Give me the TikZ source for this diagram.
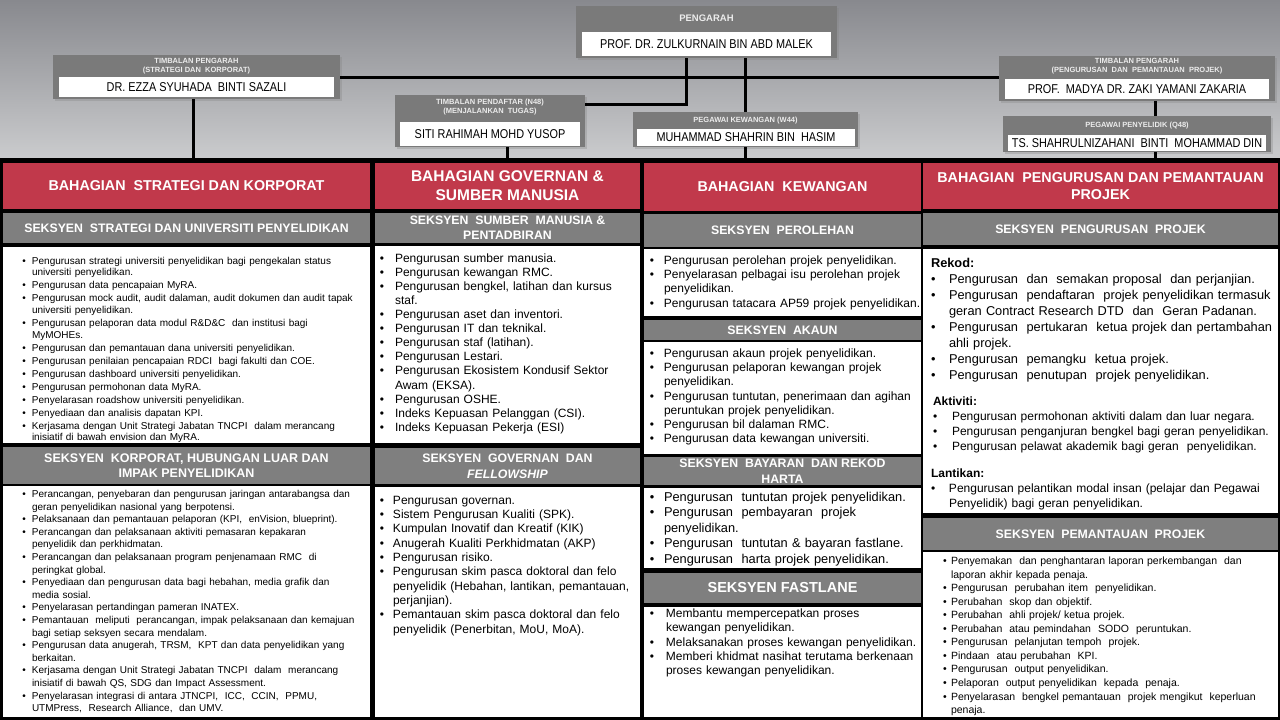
\documentclass[tikz,border=0pt]{standalone}
\usepackage{fontspec}
\setmainfont{Liberation Sans}
\newfontfamily\narrowfont[FakeStretch=0.85]{Liberation Sans}
\usetikzlibrary{shadows}
\definecolor{myred}{RGB}{193,57,75}
\definecolor{secgray}{RGB}{127,127,127}
\definecolor{topgray}{RGB}{122,122,122}
\definecolor{hdtxt}{RGB}{236,236,236}
\definecolor{bgtop}{RGB}{136,137,142}
\definecolor{bgbot}{RGB}{203,204,206}
\newlength\bulind
\newlength\itemgap
\setlength\itemgap{0pt}
\newcommand{\nl}{\newline}
\newcommand{\itm}[1]{\par\vskip\itemgap\noindent\hangindent=\bulind\hangafter=1\makebox[\bulind][l]{\textbullet}\strut#1\par}
\newcommand{\lbl}[1]{\par\noindent\strut{\bfseries #1}\par}
\newcommand{\mkbox}[7]{\node[#6, minimum width={#4-#2}, minimum height={#5-#3}] (#1) at ({(#2+#4)/2},{(#3+#5)/2}) {#7};}
\begin{document}
\begin{tikzpicture}[x=1pt,y=-1pt,
  box/.style={inner sep=0pt, outer sep=0pt, draw=none, text=white, align=center},
  redhd/.style={box, fill=myred, font=\bfseries\fontsize{14.3}{17}\selectfont},
  grayhd/.style={box, fill=secgray, font=\bfseries\fontsize{12.3}{16}\selectfont},
  whitebox/.style={box, fill=white},
  body/.style={anchor=north west, inner sep=0pt, outer sep=0pt, text width=420pt, text=black},
  topbox/.style={inner sep=0pt, outer sep=0pt, fill=topgray, drop shadow={shadow xshift=2pt, shadow yshift=-2pt, opacity=0.3}},
  namebox/.style={inner sep=0pt, outer sep=0pt, fill=white, text=black, font=\narrowfont\fontsize{12.8}{14}\selectfont},
  toplab/.style={inner sep=0pt, text=hdtxt, align=center, font=\bfseries\fontsize{7.5}{9}\selectfont},
  conn/.style={line width=3pt, black}]
\useasboundingbox (0,0) rectangle (1280,720);
\shade[top color=bgtop, bottom color=bgbot] (0,0) rectangle (1280,160);
\fill[black] (0,158) rectangle (1280,720);

% ---------- top boxes ----------
\mkbox{pengarah}{576}{6}{837}{58}{topbox}{}
\mkbox{pengarahN}{582}{32}{831}{56}{namebox}{PROF. DR. ZULKURNAIN BIN ABD MALEK}
\node[toplab, font=\bfseries\fontsize{9.5}{11}\selectfont] (pengarahL) at (706.5,18) {PENGARAH};

\mkbox{ezza}{53}{55}{340}{99}{topbox}{}
\mkbox{ezzaN}{59}{77}{334}{97}{namebox}{DR. EZZA SYUHADA\ \ BINTI\ SAZALI}
\node[toplab] (ezzaL) at (196.5,66.5) {TIMBALAN PENGARAH\\(STRATEGI DAN\ \ KORPORAT)};

\mkbox{siti}{395}{95}{585}{147}{topbox}{}
\mkbox{sitiN}{400}{122}{580}{146}{namebox}{SITI RAHIMAH MOHD YUSOP}
\node[toplab] (sitiL) at (490,107.5) {TIMBALAN PENDAFTAR (N48)\\(MENJALANKAN\ \ TUGAS)};

\mkbox{kew}{633}{112}{858}{147}{topbox}{}
\mkbox{kewN}{637}{129}{855}{146}{namebox}{MUHAMMAD SHAHRIN BIN\ \ HASIM}
\node[toplab] (kewL) at (745.5,120.5) {PEGAWAI KEWANGAN (W44)};

\mkbox{zaki}{999}{56}{1275}{101}{topbox}{}
\mkbox{zakiN}{1005}{79}{1269}{99}{namebox}{PROF.\ \ MADYA DR. ZAKI YAMANI ZAKARIA}
\node[toplab] (zakiL) at (1137,66.5) {TIMBALAN PENGARAH\\(PENGURUSAN\ \ DAN\ \ PEMANTAUAN\ \ PROJEK)};

\mkbox{penyel}{1003}{116}{1271}{152}{topbox}{}
\mkbox{penyelN}{1008}{135}{1266}{151}{namebox}{TS. SHAHRULNIZAHANI\ \ BINTI\ \ MOHAMMAD DIN}
\node[toplab] (penyelL) at (1137,126) {PEGAWAI PENYELIDIK (Q48)};

% ---------- column 1 ----------
\mkbox{c1head}{3}{163}{370}{209}{redhd}{BAHAGIAN\ \ STRATEGI DAN KORPORAT}
\mkbox{c1s1}{3}{213}{370}{243}{grayhd}{SEKSYEN\ \ STRATEGI DAN UNIVERSITI PENYELIDIKAN}
\mkbox{c1b1}{3}{247}{370}{443}{whitebox}{}
\mkbox{c1s2}{3}{447}{370}{484}{grayhd, font=\bfseries\fontsize{12.5}{15.5}\selectfont}{\raisebox{-2pt}{\parbox{360pt}{\centering SEKSYEN\ \ KORPORAT, HUBUNGAN LUAR DAN\\IMPAK PENYELIDIKAN}}}
\mkbox{c1b2}{3}{486}{370}{717}{whitebox}{}

\node[body, font=\fontsize{10}{11.6}\selectfont] (c1t1) at (22.3,251) {\setlength\bulind{9.7pt}\setlength\itemgap{1.45pt}%
\itm{Pengurusan strategi universiti penyelidikan bagi pengekalan status\nl universiti penyelidikan.}
\itm{Pengurusan data pencapaian MyRA.}
\itm{Pengurusan mock audit, audit dalaman, audit dokumen dan audit tapak\nl universiti penyelidikan.}
\itm{Pengurusan pelaporan data modul R\&D\&C\ \ dan institusi bagi\nl MyMOHEs.}
\itm{Pengurusan dan pemantauan dana universiti penyelidikan.}
\itm{Pengurusan penilaian pencapaian RDCI\ \ bagi fakulti dan COE.}
\itm{Pengurusan dashboard universiti penyelidikan.}
\itm{Pengurusan permohonan data MyRA.}
\itm{Penyelarasan roadshow universiti penyelidikan.}
\itm{Penyediaan dan analisis dapatan KPI.}
\itm{Kerjasama dengan Unit Strategi Jabatan TNCPI\ \ dalam merancang\nl inisiatif di bawah envision dan MyRA.}};

\node[body, font=\fontsize{10}{12.6}\selectfont] (c1t2) at (22.3,484.8) {\setlength\bulind{9.7pt}%
\itm{Perancangan, penyebaran dan pengurusan jaringan antarabangsa dan\nl geran penyelidikan nasional yang berpotensi.}
\itm{Pelaksanaan dan pemantauan pelaporan (KPI,\ \ enVision, blueprint).}
\itm{Perancangan dan pelaksanaan aktiviti pemasaran kepakaran\nl penyelidik dan perkhidmatan.}
\itm{Perancangan dan pelaksanaan program penjenamaan RMC\ \ di\nl peringkat global.}
\itm{Penyediaan dan pengurusan data bagi hebahan, media grafik dan\nl media sosial.}
\itm{Penyelarasan pertandingan pameran INATEX.}
\itm{Pemantauan\ \ meliputi\ \ perancangan, impak pelaksanaan dan kemajuan\nl bagi setiap seksyen secara mendalam.}
\itm{Pengurusan data anugerah, TRSM,\ \ KPT dan data penyelidikan yang\nl berkaitan.}
\itm{Kerjasama dengan Unit Strategi Jabatan TNCPI\ \ dalam\ \ merancang\nl inisiatif di bawah QS, SDG dan Impact Assessment.}
\itm{Penyelarasan integrasi di antara JTNCPI,\ \ ICC,\ \ CCIN,\ \ PPMU,\nl UTMPress,\ \ Research Alliance,\ \ dan UMV.}};

% ---------- column 2 ----------
\mkbox{c2head}{375}{163}{640}{209}{redhd, font=\bfseries\fontsize{15.5}{19}\selectfont}{\raisebox{-1.5pt}{\parbox{260pt}{\centering BAHAGIAN GOVERNAN \&\\SUMBER MANUSIA}}}
\mkbox{c2s1}{375}{213}{640}{243}{grayhd, font=\bfseries\fontsize{12.3}{15}\selectfont}{\raisebox{-1.5pt}{\parbox{260pt}{\centering SEKSYEN\ \ SUMBER\ \ MANUSIA \&\\PENTADBIRAN}}}
\mkbox{c2b1}{375}{246}{640}{443}{whitebox}{}
\mkbox{c2s2}{375}{448}{640}{484}{grayhd}{SEKSYEN\ \ GOVERNAN\ \ DAN\\\textit{FELLOWSHIP}}
\mkbox{c2b2}{375}{487}{640}{717}{whitebox}{}

\node[body, font=\fontsize{12}{14.1}\selectfont] (c2t1) at (379.9,248) {\setlength\bulind{15.1pt}%
\itm{Pengurusan sumber manusia.}
\itm{Pengurusan kewangan RMC.}
\itm{Pengurusan bengkel, latihan dan kursus\nl staf.}
\itm{Pengurusan aset dan inventori.}
\itm{Pengurusan IT dan teknikal.}
\itm{Pengurusan staf (latihan).}
\itm{Pengurusan Lestari.}
\itm{Pengurusan Ekosistem Kondusif Sektor\nl Awam (EKSA).}
\itm{Pengurusan OSHE.}
\itm{Indeks Kepuasan Pelanggan (CSI).}
\itm{Indeks Kepuasan Pekerja (ESI)}};

\node[body, font=\fontsize{12}{14.3}\selectfont] (c2t2) at (379.9,490) {\setlength\bulind{13.1pt}%
\itm{Pengurusan governan.}
\itm{Sistem Pengurusan Kualiti (SPK).}
\itm{Kumpulan Inovatif dan Kreatif (KIK)}
\itm{Anugerah Kualiti Perkhidmatan (AKP)}
\itm{Pengurusan risiko.}
\itm{Pengurusan skim pasca doktoral dan felo\nl penyelidik (Hebahan, lantikan, pemantauan,\nl perjanjian).}
\itm{Pemantauan skim pasca doktoral dan felo\nl penyelidik (Penerbitan, MoU, MoA).}};

% ---------- column 3 ----------
\mkbox{c3head}{644}{163}{921}{211}{redhd}{BAHAGIAN\ \ KEWANGAN}
\mkbox{c3s1}{644}{214}{921}{247}{grayhd}{SEKSYEN\ \ PEROLEHAN}
\mkbox{c3b1}{644}{249}{921}{316}{whitebox}{}
\mkbox{c3s2}{644}{320}{921}{340}{grayhd}{SEKSYEN\ \ AKAUN}
\mkbox{c3b2}{644}{342}{921}{454}{whitebox}{}
\mkbox{c3s3}{644}{457}{921}{485}{grayhd}{SEKSYEN\ \ BAYARAN\ \ DAN REKOD\\HARTA}
\mkbox{c3b3}{644}{488}{921}{568}{whitebox}{}
\mkbox{c3s4}{644}{573}{921}{603}{grayhd, font=\bfseries\fontsize{14.5}{17}\selectfont}{SEKSYEN FASTLANE}
\mkbox{c3b4}{644}{607}{921}{717}{whitebox}{}

\node[body, font=\fontsize{12}{14.3}\selectfont] (c3t1) at (649.9,250) {\setlength\bulind{14.1pt}%
\itm{Pengurusan perolehan projek penyelidikan.}
\itm{Penyelarasan pelbagai isu perolehan projek\nl penyelidikan.}
\itm{Pengurusan tatacara AP59 projek penyelidikan.}};

\node[body, font=\fontsize{12}{14.3}\selectfont] (c3t2) at (649.9,342.8) {\setlength\bulind{14.1pt}%
\itm{Pengurusan akaun projek penyelidikan.}
\itm{Pengurusan pelaporan kewangan projek\nl penyelidikan.}
\itm{Pengurusan tuntutan, penerimaan dan agihan\nl peruntukan projek penyelidikan.}
\itm{Pengurusan bil dalaman RMC.}
\itm{Pengurusan data kewangan universiti.}};

\node[body, font=\fontsize{12.8}{15.5}\selectfont] (c3t3) at (649.8,485.5) {\setlength\bulind{14.2pt}%
\itm{Pengurusan\ \ tuntutan projek penyelidikan.}
\itm{Pengurusan\ \ pembayaran\ \ projek\nl penyelidikan.}
\itm{Pengurusan\ \ tuntutan \& bayaran fastlane.}
\itm{Pengurusan\ \ harta projek penyelidikan.}};

\node[body, font=\fontsize{12}{14.1}\selectfont] (c3t4) at (649.9,603.7) {\setlength\bulind{16.1pt}%
\itm{Membantu mempercepatkan proses\nl kewangan penyelidikan.}
\itm{Melaksanakan proses kewangan penyelidikan.}
\itm{Memberi khidmat nasihat terutama berkenaan\nl proses kewangan penyelidikan.}};

% ---------- column 4 ----------
\mkbox{c4head}{923}{163}{1278}{209}{redhd}{\raisebox{-3pt}{\parbox{350pt}{\centering BAHAGIAN\ \ PENGURUSAN DAN PEMANTAUAN\\PROJEK}}}
\mkbox{c4s1}{923}{213}{1278}{245}{grayhd}{SEKSYEN\ \ PENGURUSAN\ \ PROJEK}
\mkbox{c4b1}{923}{249}{1278}{513}{whitebox}{}
\mkbox{c4s2}{923}{518}{1278}{550}{grayhd}{\raisebox{-1.5pt}{SEKSYEN\ \ PEMANTAUAN\ \ PROJEK}}
\mkbox{c4b2}{923}{552}{1278}{717}{whitebox}{}

\node[body, font=\fontsize{12.8}{16}\selectfont] (c4rekod) at (931,251) {\setlength\bulind{18pt}%
\lbl{Rekod:}
\itm{Pengurusan\ \ dan\ \ semakan proposal\ \ dan perjanjian.}
\itm{Pengurusan\ \ pendaftaran\ \ projek penyelidikan termasuk\nl geran Contract Research DTD\ \ dan\ \ Geran Padanan.}
\itm{Pengurusan\ \ pertukaran\ \ ketua projek dan pertambahan\nl ahli projek.}
\itm{Pengurusan\ \ pemangku\ \ ketua projek.}
\itm{Pengurusan\ \ penutupan\ \ projek penyelidikan.}};

\node[body, font=\fontsize{12}{14.8}\selectfont] (c4akt) at (933,391) {\setlength\bulind{19pt}%
\lbl{Aktiviti:}
\itm{Pengurusan permohonan aktiviti dalam dan luar negara.}
\itm{Pengurusan penganjuran bengkel bagi geran penyelidikan.}
\itm{Pengurusan pelawat akademik bagi geran\ \ penyelidikan.}};

\node[body, font=\fontsize{12}{15}\selectfont] (c4lan) at (931,462.5) {\setlength\bulind{18pt}%
\lbl{Lantikan:}
\itm{Pengurusan pelantikan modal insan (pelajar dan Pegawai\nl Penyelidik) bagi geran penyelidikan.}};

\node[body, font=\fontsize{10.5}{13.55}\selectfont] (c4t2) at (943.2,551) {\setlength\bulind{7.8pt}%
\itm{Penyemakan\ \ dan penghantaran laporan perkembangan\ \ dan\nl laporan akhir kepada penaja.}
\itm{Pengurusan\ \ perubahan item\ \ penyelidikan.}
\itm{Perubahan\ \ skop dan objektif.}
\itm{Perubahan\ \ ahli projek/ ketua projek.}
\itm{Perubahan\ \ atau pemindahan\ \ SODO\ \ peruntukan.}
\itm{Pengurusan\ \ pelanjutan tempoh\ \ projek.}
\itm{Pindaan\ \ atau perubahan\ \ KPI.}
\itm{Pengurusan\ \ output penyelidikan.}
\itm{Pelaporan\ \ output penyelidikan\ \ kepada\ \ penaja.}
\itm{Penyelarasan\ \ bengkel pemantauan\ \ projek mengikut\ \ keperluan\nl penaja.}};

% ---------- connectors ----------
\draw[conn] (ezza.east) -- (ezza.east -| zaki.west);
\draw[conn] ([xshift=-20.5pt]pengarah.south) |- ([yshift=-9pt]siti.north east);
\draw[conn] (pengarah.south -| kew.north) -- (kew.north);
\draw[conn] ([xshift=-3.5pt]ezza.south) -- ([xshift=-3.5pt]ezza.south |- c1head.north);
\draw[conn] (siti.south -| c2head.north) -- (c2head.north);
\draw[conn] (kew.south) -- (kew.south |- c3head.north);
\draw[conn] ([xshift=18pt]zaki.south) -- ([xshift=18pt]penyel.north);
\draw[conn] ([xshift=18pt]penyel.south) -- ([xshift=18pt]penyel.south |- c4head.north);
\end{tikzpicture}
\end{document}
